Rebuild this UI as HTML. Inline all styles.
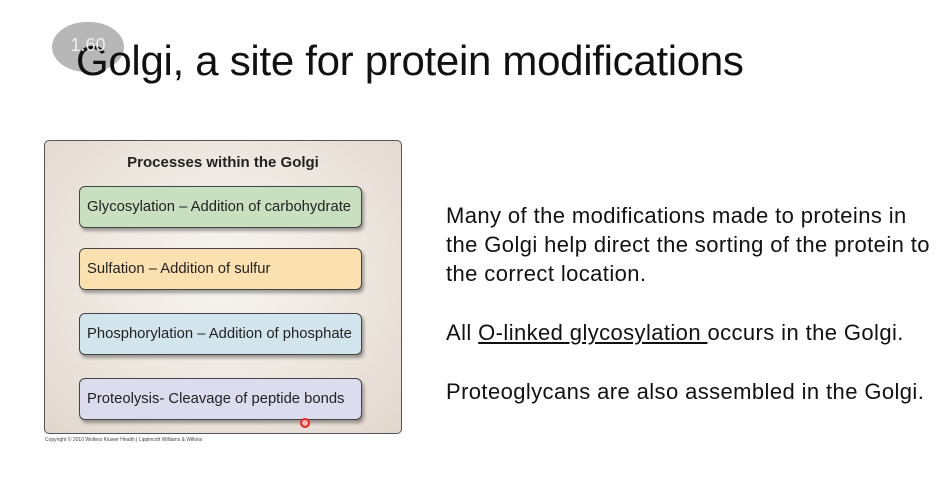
<!DOCTYPE html>
<html><head><style>
body{margin:0;width:951px;height:502px;background:#fff;position:relative;overflow:hidden;font-family:"Liberation Sans",sans-serif;}
.abs{position:absolute;}
.title{left:76px;top:37px;font-size:42px;color:#111;white-space:nowrap;letter-spacing:-0.3px;}
.badge{left:52px;top:22px;width:72px;height:50px;border-radius:36px/26px;background:rgba(170,170,170,0.85);}
.bl{left:52px;top:22px;width:72px;text-align:center;color:#eee;font-size:18px;line-height:46px;}
.panel{left:44px;top:140px;width:356px;height:292px;border:1px solid #555;border-radius:5px;background:radial-gradient(ellipse at 50% 45%,#f7f4f0 0%,#ece5de 60%,#e0d6cc 100%);}
.ph{left:44px;top:154px;width:358px;text-align:center;font-weight:bold;font-size:15px;color:#222;}
.box{left:79px;width:283px;height:42px;border:1px solid #444;border-radius:6px;box-shadow:2px 3px 3px rgba(0,0,0,0.35);font-size:14.8px;color:#222;line-height:41px;padding-left:7px;box-sizing:border-box;white-space:nowrap;}
.txt{left:446px;font-size:22px;letter-spacing:0.4px;color:#111;line-height:29px;white-space:nowrap;}
.copy{left:45px;top:437px;font-size:5px;color:#444;}
</style></head><body>
<div class="abs panel"></div>
<div class="abs ph">Processes within the Golgi</div>
<div class="abs box" style="top:186px;background:#c9e0c0;">Glycosylation – Addition of carbohydrate</div>
<div class="abs box" style="top:248px;background:#fbe1b0;">Sulfation – Addition of sulfur</div>
<div class="abs box" style="top:313px;background:#d3e5ec;">Phosphorylation – Addition of phosphate</div>
<div class="abs box" style="top:378px;background:#dcdcef;">Proteolysis- Cleavage of peptide bonds</div>
<div class="abs" style="left:300px;top:418px;width:6px;height:6px;border:2px solid #e22;border-radius:50%;background:#fbb;"></div>
<div class="abs copy">Copyright © 2010 Wolters Kluwer Health | Lippincott Williams &amp; Wilkins</div>
<div class="abs badge"></div>
<div class="abs title">Golgi, a site for protein modifications</div>
<div class="abs bl">1.60</div>
<div class="abs txt" style="top:201px;">Many of the modifications made to proteins in<br>the Golgi help direct the sorting of the protein to<br>the correct location.</div>
<div class="abs txt" style="top:318px;">All <span style="text-decoration:underline">O-linked glycosylation </span>occurs in the Golgi.</div>
<div class="abs txt" style="top:377px;">Proteoglycans are also assembled in the Golgi.</div>
</body></html>
